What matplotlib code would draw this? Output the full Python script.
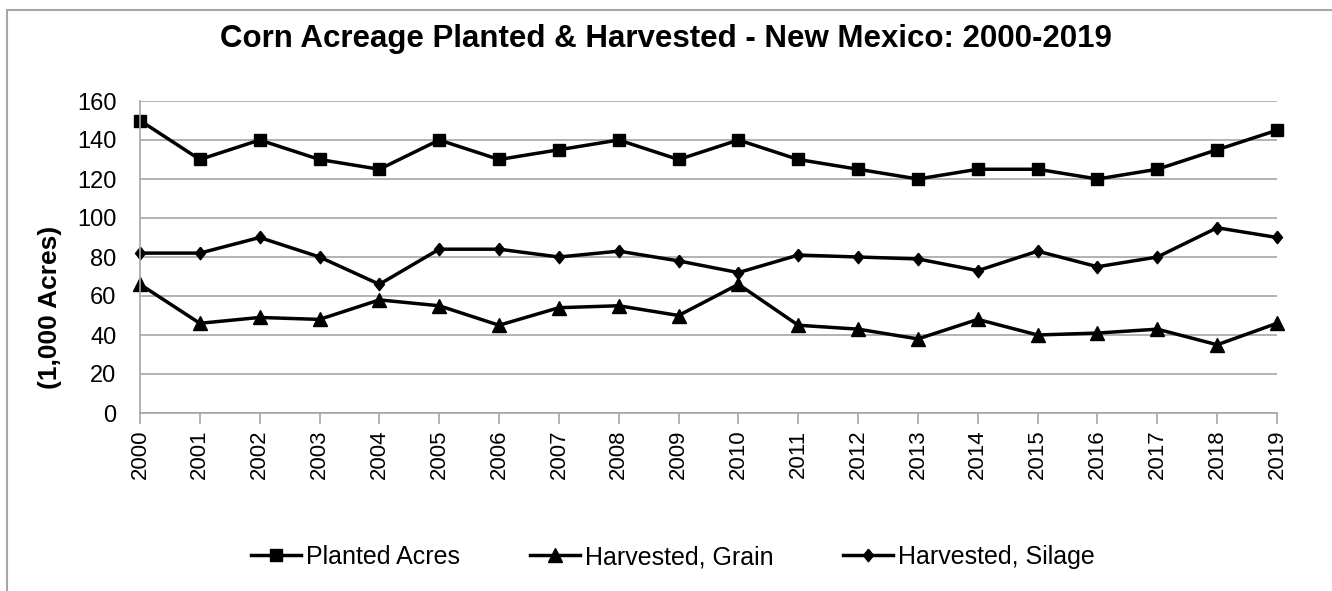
import numpy as np
import matplotlib
matplotlib.use("Agg")
import matplotlib.pyplot as plt
from matplotlib.patches import Rectangle

plt.rcParams['font.family'] = ['Liberation Sans', 'DejaVu Sans']

years = [str(y) for y in range(2000, 2020)]
planted = [150, 130, 140, 130, 125, 140, 130, 135, 140, 130,
           140, 130, 125, 120, 125, 125, 120, 125, 135, 145]
grain = [66, 46, 49, 48, 58, 55, 45, 54, 55, 50,
         66, 45, 43, 38, 48, 40, 41, 43, 35, 46]
silage = [82, 82, 90, 80, 66, 84, 84, 80, 83, 78,
          72, 81, 80, 79, 73, 83, 75, 80, 95, 90]

grid_col = "#A6A6A6"
diamond = [(0, 1), (0.8, 0), (0, -1), (-0.8, 0), (0, 1)]

fig = plt.figure(figsize=(13.32, 5.91), dpi=100)
ax = fig.add_axes([140 / 1332, 1 - 413 / 591, (1277 - 140) / 1332, (413 - 101) / 591])

x = np.arange(len(years))
ax.plot(x, planted, color="black", lw=2.5, marker="s", ms=9, label="Planted Acres", clip_on=False)
ax.plot(x, grain, color="black", lw=2.5, marker="^", ms=10, label="Harvested, Grain", clip_on=False)
ax.plot(x, silage, color="black", lw=2.5, marker=diamond, ms=9, label="Harvested, Silage", clip_on=False)

ax.set_xlim(0, len(years) - 1)
ax.set_ylim(0, 160)
ax.set_yticks(range(0, 161, 20))
ax.set_xticks(x)
ax.set_xticklabels(years, rotation=90)
ax.tick_params(axis="y", length=0, labelsize=17, pad=17)
ax.tick_params(axis="x", length=8, color=grid_col, width=1.2, labelsize=16, pad=4)
ax.grid(axis="y", color=grid_col, lw=1.2)
ax.set_axisbelow(True)
for s in ["top", "right"]:
    ax.spines[s].set_visible(False)
for s in ["left", "bottom"]:
    ax.spines[s].set_color(grid_col)
    ax.spines[s].set_linewidth(1.2)

fig.text(50 / 1332, 1 - 307 / 591, "(1,000 Acres)", rotation=90, ha="center", va="center",
         fontsize=19, fontweight="bold")
fig.text(0.5, 1 - 47 / 591, "Corn Acreage Planted & Harvested - New Mexico: 2000-2019",
         ha="center", va="baseline", fontsize=22.5, fontweight="bold")

fig.legend(loc="center", bbox_to_anchor=(673 / 1332, 1 - 557 / 591), ncol=3, frameon=False,
           fontsize=18, handlelength=2.0, handletextpad=0.2, columnspacing=2.8)

# outer chart border
fig.patches.append(Rectangle((7 / 1332, -0.1), 1.2, 1 - 10 / 591 + 0.1, transform=fig.transFigure,
                             fill=False, edgecolor=grid_col, lw=1.5))

fig.savefig("out.png", dpi=100)
